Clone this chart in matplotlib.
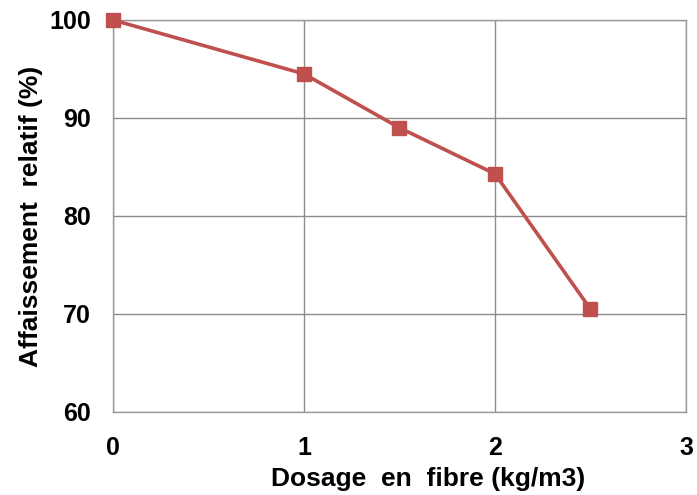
import matplotlib
matplotlib.use("Agg")
import matplotlib.pyplot as plt

# Slump relative to the reference mix, per fibre dosage
dosage = [0, 1, 1.5, 2, 2.5]
affaissement = [100, 94.5, 89.0, 84.3, 70.5]

x_ticks = [0, 1, 2, 3]
y_ticks = [60, 70, 80, 90, 100]

plt.rcParams['font.family'] = ['Liberation Sans', 'DejaVu Sans']
plt.rcParams['font.weight'] = 'bold'

fig = plt.figure(figsize=(6.97, 4.95), dpi=100)
ax = fig.add_axes([0.1621, 0.1677, 0.8221, 0.7919])

ax.plot(dosage, affaissement, color='#C0504D', linewidth=2.6,
        marker='s', markersize=10, zorder=3, clip_on=False)

ax.set_xlim(0, 3)
ax.set_ylim(60, 100)
ax.set_xticks(x_ticks)
ax.set_yticks(y_ticks)
ax.grid(True, color='#8c8c8c', linewidth=1.0)
ax.set_axisbelow(True)
for spine in ax.spines.values():
    spine.set_color('#9a9a9a')
    spine.set_linewidth(1.0)

ax.tick_params(length=0, labelsize=18)
ax.tick_params(axis='y', pad=16)
ax.tick_params(axis='x', pad=17)
for lbl in ax.get_xticklabels() + ax.get_yticklabels():
    lbl.set_fontweight('bold')

ax.set_xlabel('Dosage  en  fibre (kg/m3)', fontsize=19, fontweight='bold')
ax.set_ylabel('Affaissement  relatif (%)', fontsize=19, fontweight='bold')
ax.xaxis.set_label_coords(0.55, -0.14)
ax.yaxis.set_label_coords(-0.122, 0.5)

fig.savefig('out.png', dpi=100, facecolor='white')
